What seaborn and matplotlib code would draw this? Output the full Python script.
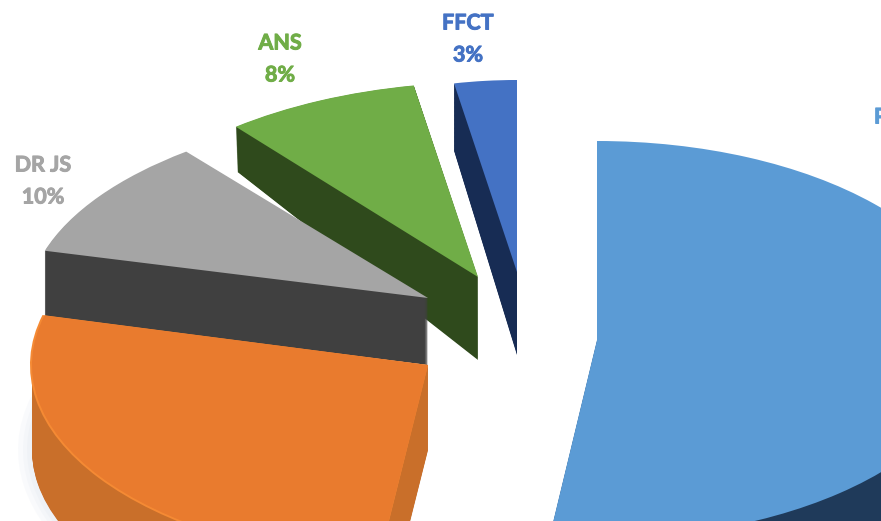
import matplotlib
matplotlib.use('Agg')
import matplotlib.pyplot as plt
import matplotlib.patheffects as pe
import seaborn as sns
from matplotlib.transforms import Affine2D

# data, counter clockwise from 12 o'clock (orange label and the P name are cropped off)
labels = ['FFCT', 'ANS', 'DR JS', '', 'P']
values = [3, 8, 10, 27, 52]
pct_shown = ['3%', '8%', '10%', '', '']

top_colors = ['#4472c4', '#70ad47', '#a5a5a5', '#e97b2e', '#5b9bd5']
wall_colors = ['#172c54', '#2f4a1c', '#404040', '#c96f2a', '#1f3a5a']
text_colors = ['#4472c4', '#70ad47', '#a5a5a5', '#ed7d31', '#5b9bd5']

# layout of each exploded slice, in image pixels (y measured from the top)
apex_x = [517, 478, 428, 428, 597]
apex_y = [272, 277, 298, 365, 340]
radius_x = [336, 391, 400, 396, 380]
radius_y = [192, 195, 190, 199, 199]
skew = [0, 0.047, 0.09, 0, 0]
depth = [83, 83, 67, 85, 85]
radius_y_bottom = [208, 244, 190, 199, 199]
label_x = [468, 280, 43, 0, 874]
label_y = [23, 43, 165, 0, 117]

W, H = 881, 521

sns.set_theme(style='white')
plt.rcParams['font.family'] = ['Lato', 'DejaVu Sans']

fig, ax = plt.subplots(figsize=(W / 100, H / 100), dpi=100)
fig.subplots_adjust(0, 0, 1, 1)


def draw_slice(i, cx, cy, rx, ry, color, alpha=1.0, zorder=1):
    # let pie work out the angles, keep only the wedge we want and squash it
    wedges, _ = ax.pie(values, startangle=90, radius=rx, colors=[color] * len(values),
                       wedgeprops={'linewidth': 0, 'alpha': alpha})
    for j, w in enumerate(wedges):
        if j != i:
            w.remove()
    squash = ry / rx
    tr = Affine2D.from_values(1, 0, skew[i] * squash, squash, cx, H - cy)
    wedges[i].set_transform(tr + ax.transData)
    wedges[i].set_zorder(zorder)


z = 1
for i in range(len(values)):
    # soft halo behind the orange slice
    if i == 3:
        for grow in [14, 9, 5]:
            draw_slice(i, apex_x[i], apex_y[i] + depth[i], radius_x[i] + grow,
                       radius_y[i] + grow, '#b8c4d8', alpha=0.07, zorder=z)
        z += 1
    # walls: stacked copies going upward from the bottom face
    for d in range(depth[i], 0, -1):
        t = d / depth[i]
        ry = radius_y[i] + (radius_y_bottom[i] - radius_y[i]) * t
        draw_slice(i, apex_x[i], apex_y[i] + d, radius_x[i], ry, wall_colors[i], zorder=z)
    z += 1
    if i == 3:
        # lighter lip along the orange rim
        draw_slice(i, apex_x[i], apex_y[i], radius_x[i] + 2, radius_y[i] + 2, '#f58a34', zorder=z)
        z += 1
    draw_slice(i, apex_x[i], apex_y[i], radius_x[i], radius_y[i], top_colors[i], zorder=z)
    z += 1

for i, lab in enumerate(labels):
    if not lab:
        continue
    ha = 'left' if lab == 'P' else 'center'
    bold = [pe.withStroke(linewidth=0.7, foreground=text_colors[i])]
    ax.text(label_x[i], H - label_y[i], lab, color=text_colors[i], fontsize=15.5,
            fontweight='bold', ha=ha, va='center', zorder=z, path_effects=bold)
    if pct_shown[i]:
        ax.text(label_x[i], H - label_y[i] - 32, pct_shown[i], color=text_colors[i],
                fontsize=15.5, fontweight='bold', ha=ha, va='center', zorder=z,
                path_effects=bold)

ax.set_aspect('auto')
ax.set_xlim(0, W)
ax.set_ylim(0, H)
ax.axis('off')

fig.savefig('out.png', dpi=100)
